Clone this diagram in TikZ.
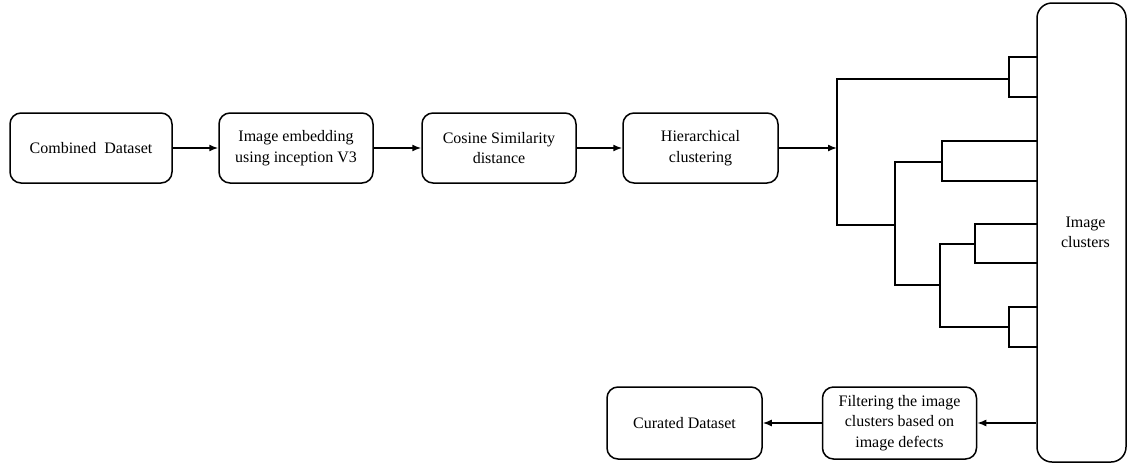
\documentclass[tikz,border=0pt]{standalone}
\usepackage{fontspec}
\setmainfont{Liberation Serif}
\usetikzlibrary{arrows.meta}
\begin{document}
\begin{tikzpicture}[x=1pt,y=-1pt,
  stepbox/.style={draw, line width=1.5pt, rounded corners=11pt, align=center,
    minimum width=154pt, minimum height=70pt, inner sep=2pt,
    font=\fontsize{16}{20.5}\selectfont},
  conn/.style={line width=1.5pt, -{Latex[length=9pt,width=7pt]}},
  dend/.style={line width=1.5pt}]
\useasboundingbox (0,0) rectangle (1128,464);
\node[stepbox, minimum width=162pt] (comb) at (91,148) {Combined\ \ Dataset};
\node[stepbox] (emb) at (296,148) {Image embedding\\using inception V3};
\node[stepbox] (cos) at (499,148) {Cosine Similarity\\distance};
\node[stepbox, minimum width=155pt] (hier) at (700.5,148) {Hierarchical\\clustering};
\node[stepbox, minimum width=89pt, minimum height=459pt, rounded corners=15pt] (clus) at (1081.5,232.5) {\hspace*{8pt}Image\\\hspace*{8pt}clusters};
\node[stepbox, minimum height=72pt] (filt) at (899.5,423) {Filtering the image\\clusters based on\\image defects};
\node[stepbox, minimum width=155pt, minimum height=72pt] (cur) at (684.5,423) {Curated Dataset};
\coordinate (root) at (837,148);
\draw[conn] (comb) -- (emb);
\draw[conn] (emb) -- (cos);
\draw[conn] (cos) -- (hier);
\draw[conn] (hier) -- (root);
\draw[conn] (clus.west |- filt) -- (filt);
\draw[conn] (filt) -- (cur);
% dendrogram
\draw[dend] (1037,57) -| (1009,97) -- (1037,97);
\draw[dend] (1037,141) -| (942,181) -- (1037,181);
\draw[dend] (1037,224) -| (975,263) -- (1037,263);
\draw[dend] (1037,307) -| (1009,347) -- (1037,347);
\draw[dend] (975,244) -| (940,327) -- (1009,327);
\draw[dend] (942,162) -| (895,285) -- (940,285);
\draw[dend] (1009,79) -| (837,225) -- (895,225);
\end{tikzpicture}
\end{document}
